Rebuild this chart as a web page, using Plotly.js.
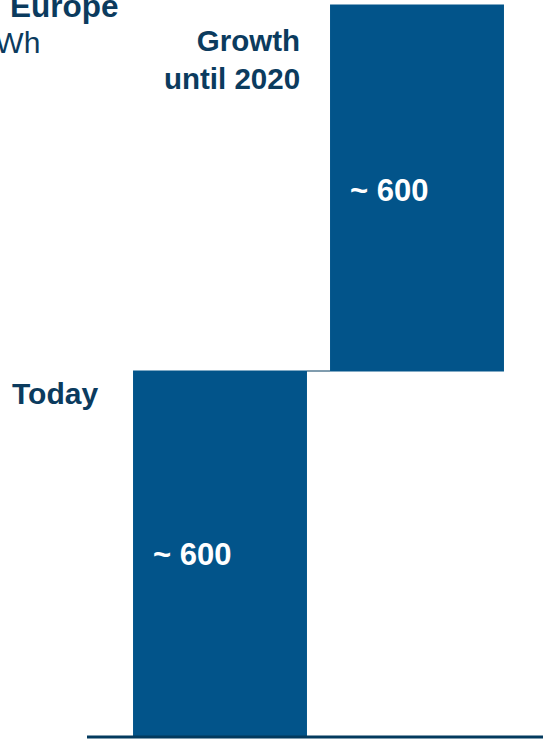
<!DOCTYPE html>
<html>
<head>
<meta charset="utf-8">
<script src="https://cdn.plot.ly/plotly-3.0.1.min.js"></script>
<style>html,body{margin:0;padding:0;background:#fff;}#chart{width:543px;height:739px;}</style>
</head>
<body>
<div id="chart"></div>
<script>
// Data
const categories = ["Today", "Growth until 2020"];
const categoryLabels = ["Today", "Growth<br>until 2020"];
const measures = ["absolute", "relative"];
const values = [600, 600];
const valueLabels = ["~ 600", "~ 600"];
const titleText = "Europe";
const unitText = "TWh";

const barColor = "#02548A";
const textNavy = "#0B3B5E";
const lineNavy = "#033A5E";

// cumulative bases
const bases = [];
let run = 0;
values.forEach((v, i) => {
  if (measures[i] === "absolute") { bases.push(0); run = v; }
  else { bases.push(run); run += v; }
});

const trace = {
  type: "waterfall",
  x: [0, 1],
  y: values,
  measure: measures,
  width: 0.883,
  increasing: {marker: {color: barColor}},
  decreasing: {marker: {color: barColor}},
  totals: {marker: {color: barColor}},
  connector: {mode: "between", line: {color: lineNavy, width: 1}},
  text: ["", ""],
  hoverinfo: "skip",
  showlegend: false
};

const annotations = [];
values.forEach((v, i) => {
  annotations.push({
    x: i, y: bases[i] + v / 2, xref: "x", yref: "y",
    text: "<b>" + valueLabels[i] + "</b>", showarrow: false,
    xanchor: "center", yanchor: "middle", xshift: -28, yshift: i === 1 ? -2 : 0,
    font: {family: "Liberation Sans, Arial, sans-serif", size: 31, color: "#ffffff"}
  });
});
annotations.push({
  x: 0, y: bases[0] + values[0], xref: "x", yref: "y",
  text: "<b>" + categoryLabels[0] + "</b>", showarrow: false,
  xanchor: "right", yanchor: "middle", xshift: -120, yshift: -22, align: "right",
  font: {family: "Liberation Sans, Arial, sans-serif", size: 30, color: textNavy}
});
annotations.push({
  x: 1, y: bases[1] + values[1], xref: "x", yref: "y",
  text: "<b>" + categoryLabels[1] + "</b>", showarrow: false,
  xanchor: "right", yanchor: "middle", xshift: -115, yshift: -54, align: "right",
  font: {family: "Liberation Sans, Arial, sans-serif", size: 29.5, color: textNavy}
});
annotations.push({
  x: 8 / 543, y: 1, xref: "paper", yref: "paper",
  text: "<b>" + titleText + "</b>", showarrow: false,
  xanchor: "left", yanchor: "bottom", yshift: -26,
  font: {family: "Liberation Sans, Arial, sans-serif", size: 31.5, color: textNavy}
});
annotations.push({
  x: 42 / 543, y: 1, xref: "paper", yref: "paper",
  text: unitText, showarrow: false,
  xanchor: "right", yanchor: "top", yshift: -24,
  font: {family: "Liberation Sans, Arial, sans-serif", size: 30, color: textNavy}
});

const layout = {
  width: 543, height: 739,
  margin: {l: 0, r: 0, t: 0, b: 0, pad: 0},
  paper_bgcolor: "#ffffff", plot_bgcolor: "#ffffff",
  xaxis: {range: [-1.1168, 1.6396], visible: false, fixedrange: true},
  yaxis: {range: [-3.28, 1208.2], visible: false, fixedrange: true},
  annotations: annotations,
  shapes: [{
    type: "line", xref: "paper", yref: "y",
    x0: 87 / 543, x1: 1, y0: 0, y1: 0,
    line: {color: lineNavy, width: 3}
  }]
};

Plotly.newPlot("chart", [trace], layout, {staticPlot: true, displayModeBar: false});
</script>
</body>
</html>
